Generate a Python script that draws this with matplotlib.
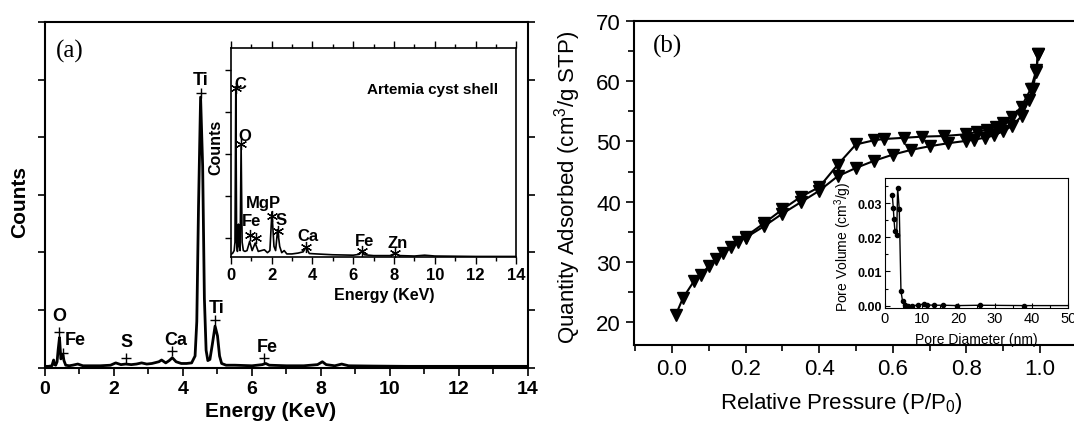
import matplotlib
matplotlib.use("Agg")
import matplotlib.pyplot as plt
from matplotlib.ticker import MultipleLocator, FormatStrFormatter

plt.rcParams["font.family"] = ["Liberation Sans", "DejaVu Sans"]
plt.rcParams["mathtext.default"] = "regular"

# ---- (a) EDS spectrum, TiO2 coated shell (counts in arbitrary tick units)
energy_main = [0.0, 0.1, 0.2, 0.25, 0.28, 0.31, 0.35, 0.38, 0.42, 0.46, 0.49, 0.52,
               0.55, 0.6, 0.7, 0.8, 0.95, 1.1, 1.3, 1.6, 1.9, 2.05, 2.2, 2.34, 2.5,
               2.65, 2.8, 2.95, 3.1, 3.3, 3.38, 3.5, 3.6, 3.69, 3.8, 3.95, 4.1, 4.25,
               4.35, 4.4, 4.45, 4.51, 4.57, 4.62, 4.67, 4.72, 4.78, 4.85, 4.93, 5.0,
               5.06, 5.12, 5.25, 5.5, 6.0, 6.3, 6.4, 6.5, 7.0, 7.5, 7.9, 8.04, 8.15,
               8.4, 8.6, 8.8, 9.5, 10.5, 12.0, 14.0]
counts_main = [0.02, 0.02, 0.03, 0.13, 0.05, 0.04, 0.10, 0.30, 0.52, 0.15, 0.18, 0.22,
               0.12, 0.04, 0.03, 0.04, 0.06, 0.03, 0.03, 0.03, 0.04, 0.08, 0.05, 0.06,
               0.05, 0.06, 0.08, 0.06, 0.07, 0.10, 0.13, 0.08, 0.12, 0.17, 0.10, 0.07,
               0.07, 0.08, 0.20, 0.80, 2.80, 4.70, 3.50, 1.20, 0.30, 0.12, 0.14, 0.40,
               0.72, 0.55, 0.20, 0.07, 0.04, 0.04, 0.03, 0.05, 0.07, 0.04, 0.03, 0.03,
               0.05, 0.10, 0.05, 0.03, 0.06, 0.03, 0.025, 0.02, 0.02, 0.02]
plus_energy = [0.40, 0.52, 2.34, 3.69, 4.52, 4.93, 6.36]
plus_counts = [0.61, 0.26, 0.17, 0.29, 4.78, 0.83, 0.17]
main_labels = ["O", "Fe", "S", "Ca", "Ti", "Ti", "Fe"]
main_label_x = [0.40, 0.87, 2.35, 3.79, 4.52, 4.97, 6.44]
main_label_y = [0.90, 0.49, 0.45, 0.49, 5.00, 1.04, 0.37]

# ---- (a) inset: Artemia cyst shell
energy_inset = [0.0, 0.1, 0.17, 0.21, 0.25, 0.29, 0.33, 0.38, 0.42, 0.46, 0.51, 0.56,
                0.62, 0.7, 0.8, 0.93, 1.05, 1.2, 1.35, 1.5, 1.65, 1.8, 1.92, 2.02,
                2.12, 2.2, 2.3, 2.4, 2.5, 2.62, 2.75, 3.0, 3.3, 3.55, 3.69, 3.85, 4.2,
                5.0, 6.0, 6.3, 6.41, 6.55, 7.0, 7.8, 8.04, 8.3, 9.0, 9.5, 10.0, 12.0, 14.0]
counts_inset = [-0.40, -0.36, -0.30, -0.10, 3.60, -0.10, -0.32, 0.33, -0.20, -0.30,
                2.20, -0.10, -0.30, -0.32, -0.30, -0.08, -0.30, -0.12, -0.32, -0.30,
                -0.28, -0.35, -0.30, 0.62, -0.20, -0.30, 0.20, -0.20, -0.35, -0.30,
                -0.38, -0.38, -0.36, -0.33, -0.22, -0.37, -0.38, -0.40, -0.41, -0.39,
                -0.32, -0.40, -0.42, -0.42, -0.37, -0.42, -0.43, -0.41, -0.43, -0.44, -0.44]
star_energy = [0.25, 0.51, 0.96, 1.26, 2.02, 2.33, 3.68, 6.41, 8.04]
star_counts = [3.58, 2.24, 0.06, 0.00, 0.53, 0.17, -0.22, -0.32, -0.36]
inset_labels = ["C", "O", "MgP", "Fe", "S", "Ca", "Fe", "Zn"]
inset_label_x = [0.46, 0.67, 1.60, 1.01, 2.47, 3.76, 6.58, 8.18]
inset_label_y = [3.69, 2.44, 0.85, 0.41, 0.44, 0.06, -0.06, -0.10]

# ---- (b) N2 isotherm
p_ads = [0.01, 0.03, 0.06, 0.08, 0.10, 0.12, 0.14, 0.16, 0.18, 0.20, 0.25, 0.30,
         0.35, 0.40, 0.45, 0.50, 0.55, 0.60, 0.65, 0.70, 0.75, 0.80, 0.82, 0.85,
         0.875, 0.90, 0.925, 0.95, 0.97, 0.98, 0.99, 0.995]
q_ads = [21.1, 24.0, 26.8, 27.9, 29.3, 30.4, 31.4, 32.4, 33.3, 34.0, 35.9, 38.0,
         39.9, 41.8, 44.2, 45.6, 46.8, 47.8, 48.6, 49.2, 49.7, 50.1, 50.3, 50.6,
         51.0, 51.7, 52.6, 54.2, 56.9, 58.7, 61.5, 64.6]
p_des = [0.995, 0.99, 0.975, 0.95, 0.925, 0.90, 0.88, 0.855, 0.83, 0.80, 0.74,
         0.68, 0.63, 0.575, 0.55, 0.50, 0.45, 0.40, 0.35, 0.30, 0.25, 0.20]
q_des = [64.6, 61.8, 58.7, 55.8, 54.1, 53.1, 52.4, 51.9, 51.6, 51.2, 50.9,
         50.8, 50.6, 50.4, 50.2, 49.5, 46.1, 42.4, 40.8, 38.7, 36.4, 34.2]

# ---- (b) inset: pore size distribution
pore_d = [2.0, 2.27, 2.45, 2.7, 3.2, 3.45, 3.9, 4.36, 4.8, 5.45, 6.4, 7.3, 9.1,
          10.6, 11.4, 13.4, 15.9, 19.7, 25.9, 38.0, 60.0]
pore_v = [0.0323, 0.0286, 0.0254, 0.0220, 0.0208, 0.0345, 0.0282, 0.0042, 0.0013,
          0.0003, 0.0, 0.0, 0.0001, 0.0005, 0.0002, 0.0001, 0.0001, 0.0, 0.0001,
          0.0, 0.0]

fig = plt.figure(figsize=(10.74, 4.27), dpi=100)
bold = dict(fontweight="bold")

# ================= panel (a)
ax1 = fig.add_axes([0.0419, 0.137, 0.4497, 0.8084])
ax1.plot(energy_main, counts_main, color="black", lw=2.0)
ax1.plot(plus_energy, plus_counts, ls="none", marker="+", ms=7, mew=1.0, color="black")
for t, x, y in zip(main_labels, main_label_x, main_label_y):
    ax1.text(x, y, t, ha="center", va="center", fontsize=13, **bold)
ax1.set_xlim(0, 14)
ax1.set_ylim(0, 6)
ax1.xaxis.set_major_locator(MultipleLocator(2))
ax1.xaxis.set_minor_locator(MultipleLocator(1))
ax1.yaxis.set_major_locator(MultipleLocator(1))
ax1.set_yticklabels([])
ax1.tick_params(axis="both", which="both", direction="out", width=1.2)
ax1.tick_params(axis="x", which="major", length=6, labelsize=14, pad=3)
ax1.tick_params(axis="x", which="minor", length=4)
ax1.tick_params(axis="y", which="major", length=5, right=True)
for lb in ax1.get_xticklabels():
    lb.set_fontweight("bold")
for s in ax1.spines.values():
    s.set_linewidth(1.5)
ax1.set_xlabel("Energy (KeV)", fontsize=15, ha="center", va="center", **bold)
ax1.xaxis.set_label_coords(0.468, -0.126)
ax1.set_ylabel("Counts", fontsize=15, ha="center", va="center", **bold)
ax1.yaxis.set_label_coords(-0.053, 0.481)
ax1.text(0.022, 0.918, "(a)", transform=ax1.transAxes, fontsize=18,
         family="Liberation Serif", ha="left", va="center")

ins1 = fig.add_axes([0.2148, 0.3951, 0.2661, 0.4895])
ins1.plot(energy_inset, counts_inset, color="black", lw=1.2)
ins1.plot(star_energy, star_counts, ls="none", marker=(6, 2, 0), ms=8, mew=0.9,
          color="black")
for t, x, y in zip(inset_labels, inset_label_x, inset_label_y):
    ins1.text(x, y, t, ha="center", va="center", fontsize=12, **bold)
ins1.text(9.87, 3.55, "Artemia cyst shell", ha="center", va="center", fontsize=11, **bold)
ins1.set_xlim(0, 14)
ins1.set_ylim(-0.46, 4.52)
ins1.xaxis.set_major_locator(MultipleLocator(2))
ins1.xaxis.set_minor_locator(MultipleLocator(1))
ins1.yaxis.set_major_locator(MultipleLocator(1))
ins1.set_yticklabels([])
ins1.tick_params(axis="both", which="both", direction="out", width=1.0, top=True)
ins1.tick_params(axis="x", which="major", length=5, labelsize=12, pad=2)
ins1.tick_params(axis="x", which="minor", length=3)
ins1.tick_params(axis="y", which="major", length=4)
for lb in ins1.get_xticklabels():
    lb.set_fontweight("bold")
for s in ins1.spines.values():
    s.set_linewidth(1.2)
ins1.set_xlabel("Energy (KeV)", fontsize=11.5, ha="center", va="center", **bold)
ins1.xaxis.set_label_coords(0.536, -0.176)
ins1.set_ylabel("Counts", fontsize=11.5, ha="center", va="center", **bold)
ins1.yaxis.set_label_coords(-0.051, 0.53)

# ================= panel (b)
ax2 = fig.add_axes([0.5903, 0.1897, 0.4294, 0.7588])
ax2.plot(p_ads, q_ads, color="black", lw=1.5, marker="v", ms=8)
ax2.plot(p_des, q_des, color="black", lw=1.5, marker="v", ms=8)
ax2.set_xlim(-0.103, 1.15)
ax2.set_ylim(16.2, 70)
ax2.xaxis.set_major_locator(MultipleLocator(0.2))
ax2.xaxis.set_minor_locator(MultipleLocator(0.1))
ax2.xaxis.set_major_formatter(FormatStrFormatter("%.1f"))
ax2.yaxis.set_major_locator(MultipleLocator(10))
ax2.yaxis.set_minor_locator(MultipleLocator(5))
ax2.tick_params(axis="both", which="both", direction="out", width=1.2, labelsize=16)
ax2.tick_params(axis="both", which="major", length=6)
ax2.tick_params(axis="both", which="minor", length=4)
for s in ax2.spines.values():
    s.set_linewidth(1.5)
ax2.set_xlabel("Relative Pressure (P/P$_0$)", fontsize=16, ha="center", va="center")
ax2.xaxis.set_label_coords(0.449, -0.176)
ax2.set_ylabel("Quantity Adsorbed (cm$^3$/g STP)", fontsize=16, ha="center", va="center")
ax2.yaxis.set_label_coords(-0.143, 0.49)
ax2.text(0.04, 0.925, "(b)", transform=ax2.transAxes, fontsize=18,
         family="Liberation Serif", ha="left", va="center")

ins2 = fig.add_axes([0.824, 0.2756, 0.1707, 0.3044])
ins2.plot(pore_d, pore_v, color="black", lw=1.0, marker="o", ms=3)
ins2.set_xlim(0, 50)
ins2.set_ylim(-0.0008, 0.0373)
ins2.xaxis.set_major_locator(MultipleLocator(10))
ins2.xaxis.set_minor_locator(MultipleLocator(5))
ins2.yaxis.set_major_locator(MultipleLocator(0.01))
ins2.yaxis.set_minor_locator(MultipleLocator(0.005))
ins2.yaxis.set_major_formatter(FormatStrFormatter("%.2f"))
ins2.tick_params(axis="both", which="both", direction="in", width=0.8, pad=2)
ins2.tick_params(axis="both", which="major", length=3.5)
ins2.tick_params(axis="both", which="minor", length=2)
ins2.tick_params(axis="x", labelsize=10.5)
ins2.tick_params(axis="y", labelsize=9)
for lb in ins2.get_yticklabels():
    lb.set_fontweight("bold")
for s in ins2.spines.values():
    s.set_linewidth(0.8)
ins2.set_xlabel("Pore Diameter (nm)", fontsize=10, ha="center", va="center")
ins2.xaxis.set_label_coords(0.5, -0.236)
ins2.set_ylabel("Pore Volume (cm$^3$/g)", fontsize=10, ha="center", va="center")
ins2.yaxis.set_label_coords(-0.229, 0.48)

fig.savefig("out.png", dpi=100)
